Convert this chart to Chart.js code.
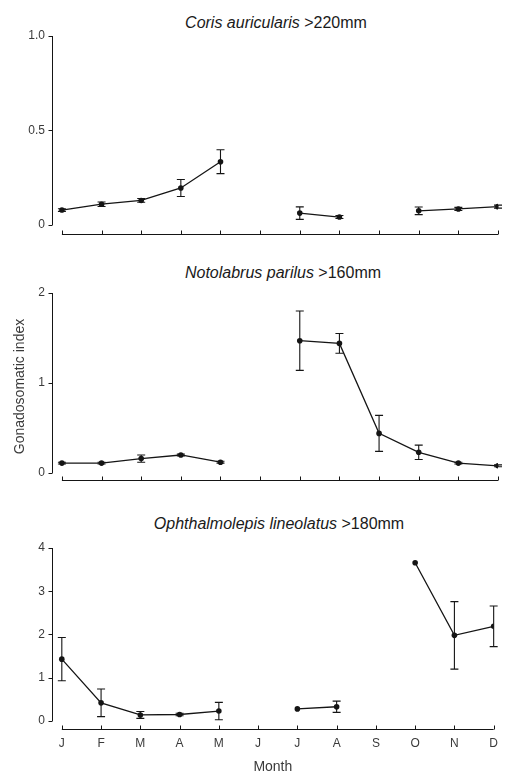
<!DOCTYPE html>
<html><head><meta charset="utf-8">
<script src="https://cdn.jsdelivr.net/npm/chart.js@4.4.0/dist/chart.umd.min.js"></script>
<style>
body{margin:0;background:#fff;width:505px;height:776px;overflow:hidden;position:relative;font-family:"Liberation Sans",Arial,sans-serif;}
canvas{position:absolute;left:0;}
.t{position:absolute;left:276px;transform:translateX(-50%);white-space:nowrap;font-size:16px;line-height:18px;color:#1a1a1a;}
</style></head><body>
<div class="t" style="top:14px"><i>Coris auricularis</i> &gt;220mm</div>
<div class="t" style="top:264px;left:283px"><i>Notolabrus parilus</i> &gt;160mm</div>
<div class="t" style="top:515px;left:279px"><i>Ophthalmolepis lineolatus</i> &gt;180mm</div>
<canvas id="c1" width="505" height="250" style="top:0px"></canvas>
<canvas id="c2" width="505" height="250" style="top:250px"></canvas>
<canvas id="c3" width="505" height="276" style="top:500px"></canvas>
<script>
const months = ['J','F','M','A','M','J','J','A','S','O','N','D'];

const corisGSI = [0.079, 0.11, 0.13, 0.196, 0.335, null, 0.063, 0.042, null, 0.075, 0.085, 0.097];
const corisErr = [0.007, 0.012, 0.01, 0.045, 0.063, null, 0.033, 0.008, null, 0.02, 0.008, 0.008];
const corisTicks = [0, 0.5, 1.0];
const corisTickLabels = ['0', '0.5', '1.0'];

const notoGSI = [0.11, 0.11, 0.16, 0.2, 0.12, null, 1.47, 1.44, 0.44, 0.23, 0.11, 0.08];
const notoErr = [0.01, 0.01, 0.04, 0.01, 0.01, null, 0.33, 0.11, 0.2, 0.08, 0.01, 0.01];
const notoTicks = [0, 1, 2];
const notoTickLabels = ['0', '1', '2'];

const ophthGSI = [1.43, 0.42, 0.14, 0.15, 0.23, null, 0.28, 0.33, null, 3.66, 1.98, 2.19];
const ophthErr = [0.5, 0.32, 0.08, 0.03, 0.2, null, 0, 0.13, null, 0, 0.78, 0.47];
const ophthTicks = [0, 1, 2, 3, 4];
const ophthTickLabels = ['0', '1', '2', '3', '4'];

const INK = '#151515';
const LABEL = '#3a3a3a';
const FONT = '"Liberation Sans", Arial, sans-serif';

const axesAndErrors = {
  id: 'axesAndErrors',
  afterDatasetsDraw(chart, args, opts) {
    const {ctx, chartArea} = chart;
    const xs = chart.scales.x, ys = chart.scales.y;
    ctx.save();
    ctx.strokeStyle = INK;
    ctx.lineWidth = 1;
    const ax = Math.round(chartArea.left) + 0.5;
    const yTop = ys.getPixelForValue(opts.yTicks[opts.yTicks.length - 1]);
    const y0 = ys.getPixelForValue(0);
    ctx.beginPath();
    ctx.moveTo(ax, yTop); ctx.lineTo(ax, y0);
    opts.yTicks.forEach(v => {
      const py = Math.round(ys.getPixelForValue(v)) + 0.5;
      ctx.moveTo(ax - 4, py); ctx.lineTo(ax, py);
    });
    ctx.stroke();
    const by = Math.round(chartArea.bottom) + 0.5;
    ctx.beginPath();
    ctx.moveTo(xs.getPixelForValue(1), by); ctx.lineTo(xs.getPixelForValue(12), by);
    for (let i = 1; i <= 12; i++) {
      const px = Math.round(xs.getPixelForValue(i)) + 0.5;
      ctx.moveTo(px, by); ctx.lineTo(px, by - 4);
    }
    ctx.stroke();
    ctx.lineWidth = 1.1;
    ctx.beginPath();
    opts.values.forEach((v, i) => {
      const e = opts.errors[i];
      if (v === null || !e) return;
      const px = xs.getPixelForValue(i + 1);
      const pt = ys.getPixelForValue(v + e);
      const pb = ys.getPixelForValue(v - e);
      ctx.moveTo(px, pt); ctx.lineTo(px, pb);
      ctx.moveTo(px - 4, pt); ctx.lineTo(px + 4, pt);
      ctx.moveTo(px - 4, pb); ctx.lineTo(px + 4, pb);
    });
    ctx.stroke();
    ctx.restore();
  }
};

function makeChart(id, values, errors, yTicks, yTickLabels, yMin, padTop, xHeight, showMonths, yTitle) {
  const canvas = document.getElementById(id);
  return new Chart(canvas, {
    type: 'line',
    data: {
      datasets: [{
        data: values.map((v, i) => ({x: i + 1, y: v})),
        borderColor: INK,
        backgroundColor: INK,
        borderWidth: 1.3,
        pointRadius: 2.8,
        pointBackgroundColor: INK,
        pointBorderWidth: 0,
        spanGaps: false,
        tension: 0
      }]
    },
    plugins: [axesAndErrors],
    options: {
      responsive: false,
      animation: false,
      devicePixelRatio: 1,
      layout: {padding: {top: padTop, right: 7, left: 0, bottom: 0}},
      plugins: {
        legend: {display: false},
        tooltip: {enabled: false},
        axesAndErrors: {values, errors, yTicks}
      },
      scales: {
        x: {
          type: 'linear',
          min: 0.75,
          max: 12,
          grid: {display: false, drawTicks: false},
          border: {display: false},
          afterFit: s => { s.height = xHeight; },
          afterBuildTicks: s => { s.ticks = months.map((m, i) => ({value: i + 1})); },
          ticks: {
            display: showMonths,
            autoSkip: false,
            maxRotation: 0,
            padding: 7,
            color: LABEL,
            font: {family: FONT, size: 12},
            callback: (v) => months[v - 1]
          },
          title: {
            display: showMonths,
            text: 'Month',
            color: LABEL,
            font: {family: FONT, size: 14},
            padding: {top: 0, bottom: 0}
          }
        },
        y: {
          type: 'linear',
          min: yMin,
          max: yTicks[yTicks.length - 1],
          grid: {display: false, drawTicks: false},
          border: {display: false},
          afterFit: s => { s.width = 52; },
          afterBuildTicks: s => { s.ticks = yTicks.map(v => ({value: v})); },
          ticks: {
            padding: 7,
            color: LABEL,
            font: {family: FONT, size: 12},
            callback: (v) => yTickLabels[yTicks.indexOf(v)]
          },
          title: {
            display: !!yTitle,
            text: yTitle || '',
            color: LABEL,
            font: {family: FONT, size: 14},
            padding: {top: 12, bottom: 0}
          }
        }
      }
    }
  });
}

makeChart('c1', corisGSI, corisErr, corisTicks, corisTickLabels, -0.045, 36, 16.5, false, null);
makeChart('c2', notoGSI, notoErr, notoTicks, notoTickLabels, -0.078, 43, 20, false, 'Gonadosomatic index');
makeChart('c3', ophthGSI, ophthErr, ophthTicks, ophthTickLabels, -0.185, 48, 47, true, null);
</script>
</body></html>
